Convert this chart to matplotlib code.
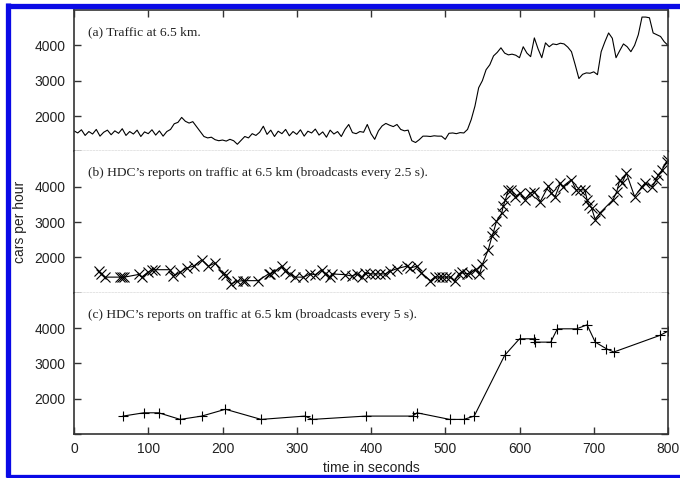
import numpy as np
import matplotlib.pyplot as plt
from matplotlib.lines import Line2D

traffic_t = np.arange(0, 801, 5)
traffic_a = [
    1580, 1520, 1610, 1450, 1560, 1490, 1620, 1430, 1540, 1600, 1470, 1580, 1510, 1640, 1450, 1560, 1490, 1600, 1420, 1550,
    1500, 1610, 1460, 1580, 1430, 1560, 1620, 1780, 1820, 1960, 1850, 1800, 1840, 1700, 1560, 1420, 1380, 1400, 1330, 1300,
    1320, 1290, 1340, 1300, 1200, 1310, 1420, 1380, 1500, 1450, 1540, 1710, 1480, 1600, 1420, 1570, 1500, 1620, 1440, 1560,
    1480, 1610, 1430, 1570, 1520, 1630, 1460, 1550, 1400, 1600, 1490, 1560, 1420, 1620, 1760, 1530, 1500, 1560, 1540, 1760,
    1500, 1340, 1580, 1720, 1790, 1740, 1700, 1760, 1620, 1580, 1600, 1300, 1250, 1330, 1430, 1430, 1420, 1440, 1430, 1430,
    1340, 1510, 1520, 1500, 1530, 1520, 1620, 1900, 2280, 2800, 3000, 3310, 3450, 3700, 3800, 3930, 3780, 3730, 3750, 3720,
    3650, 3960, 3780, 3680, 4210, 3900, 3650, 4070, 3960, 4040, 4020, 4060, 4040, 3950, 3820, 3450, 3060, 3180, 3220, 3210,
    3250, 3170, 3820, 4100, 4350, 4200, 3650, 3850, 4040, 3960, 3820, 4000, 4300, 4800, 4800, 4780, 4350, 4300, 4250, 4100, 4000,
]

# (b) HDC reports, broadcasts every 2.5 s
rep_b_t = [33, 37, 42, 62, 65, 68, 87, 91, 100, 105, 109, 129, 134, 143, 152, 161, 172, 181, 190, 201,
           205, 212, 219, 228, 230, 248, 262, 264, 269, 280, 284, 291, 298, 309, 318, 325, 334, 338, 345, 347,
           365, 374, 381, 388, 392, 399, 405, 412, 419, 426, 435, 448, 453, 462, 468, 480, 486, 491, 496, 501,
           506, 513, 518, 522, 529, 533, 542, 546, 550, 558, 563, 565, 569, 576, 578, 581, 585, 589, 594, 601,
           607, 614, 620, 628, 639, 643, 648, 655, 658, 670, 676, 681, 688, 691, 693, 697, 702, 708, 726, 731,
           735, 738, 744, 755, 765, 769, 779, 784, 787, 792, 798, 800]
rep_b = [1610, 1515, 1440, 1440, 1440, 1440, 1515, 1440, 1580, 1650, 1650, 1650, 1470, 1580, 1700, 1750, 1930, 1750, 1840, 1530,
         1500, 1250, 1320, 1340, 1340, 1340, 1530, 1530, 1580, 1750, 1610, 1530, 1440, 1440, 1530, 1510, 1650, 1530, 1440, 1530,
         1510, 1470, 1530, 1440, 1560, 1530, 1530, 1530, 1530, 1610, 1680, 1750, 1700, 1750, 1560, 1340, 1440, 1440, 1440, 1440,
         1440, 1340, 1530, 1580, 1530, 1560, 1660, 1515, 1800, 2220, 2600, 2720, 3020, 3250, 3440, 3630, 3910, 3910, 3720, 3810,
         3630, 3810, 3860, 3580, 4020, 3810, 3720, 4100, 4000, 4200, 3910, 3910, 3910, 3630, 3490, 3400, 3070, 3250, 3630, 3860,
         4190, 4100, 4380, 3720, 4000, 4100, 4000, 4190, 4330, 4470, 4710, 4750]

# (c) HDC reports, broadcasts every 5 s
rep_c_t = [66, 94, 114, 143, 172, 204, 252, 311, 321, 393, 456, 462, 506, 525, 539,
           580, 600, 619, 621, 642, 651, 677, 691, 702, 717, 727, 789, 800]
rep_c = [1507, 1600, 1600, 1413, 1507, 1700, 1413, 1507, 1413, 1507, 1507, 1600, 1413, 1413, 1507,
         3225, 3695, 3695, 3600, 3600, 3977, 3977, 4090, 3600, 3413, 3320, 3790, 3910]

labels = ["(a) Traffic at 6.5 km.",
          "(b) HDC\u2019s reports on traffic at 6.5 km (broadcasts every 2.5 s).",
          "(c) HDC\u2019s reports on traffic at 6.5 km (broadcasts every 5 s)."]
yticks = [1000, 2000, 3000, 4000]
yticklabels = ["", "2000", "3000", "4000"]
xticks = [0, 100, 200, 300, 400, 500, 600, 700, 800]

fig = plt.figure(figsize=(6.8, 4.78), dpi=100)
plt.rcParams['font.family'] = ['Liberation Sans', 'DejaVu Sans']

left, right = 74 / 680, 668 / 680
top, bottom = 1 - 10 / 478, 1 - 434 / 478
h = (top - bottom) / 3

axes = []
for i in range(3):
    ax = fig.add_axes([left, top - (i + 1) * h, right - left, h])
    axes.append(ax)

series = [(traffic_t, traffic_a, None), (rep_b_t, rep_b, 'x'), (rep_c_t, rep_c, '+')]
for i, (ax, (t, v, m)) in enumerate(zip(axes, series)):
    if m is None:
        ax.plot(t, v, color='black', lw=0.8)
    else:
        ax.plot(t, v, color='black', lw=0.8, marker=m, ms=6.5, mew=0.8)
    ax.set_xlim(0, 800)
    ax.set_ylim(1000, 5000)
    ax.set_yticks(yticks)
    ax.set_yticklabels(yticklabels)
    ax.tick_params(axis='y', direction='in', length=5, right=True, labelsize=10, pad=6,
                   colors='#333333', labelcolor='#222222', width=1)
    ax.text(0.024, 0.845, labels[i], transform=ax.transAxes, family=['Liberation Serif'],
            fontsize=9.7, color='#222222', va='center', ha='left')
    for s in ['left', 'right']:
        ax.spines[s].set_color('#333333')
        ax.spines[s].set_linewidth(1.2)
    ax.spines['top'].set_visible(i == 0)
    ax.spines['top'].set_color('#333333')
    ax.spines['top'].set_linewidth(1.2)
    if i < 2:
        # dotted separator between the stacked panels
        ax.spines['bottom'].set_linestyle((0, (1, 1.5)))
        ax.spines['bottom'].set_color('#333333')
        ax.spines['bottom'].set_linewidth(0.9)
    else:
        ax.spines['bottom'].set_color('#333333')
        ax.spines['bottom'].set_linewidth(1.2)

axes[0].set_xticks(xticks)
axes[0].tick_params(axis='x', direction='in', length=5, top=True, bottom=False,
                    labeltop=False, labelbottom=False, colors='#333333', width=1)
axes[1].tick_params(axis='x', bottom=False, labelbottom=False)
axes[2].set_xticks(xticks)
axes[2].tick_params(axis='x', direction='in', length=5, labelsize=10, colors='#333333',
                    labelcolor='#222222', width=1, pad=6)
axes[2].set_xlabel("time in seconds", fontsize=10, color='#222222', labelpad=3)

fig.text(20 / 680, 1 - 222 / 478, "cars per hour", rotation=90, fontsize=10,
         color='#222222', ha='center', va='center')

# blue frame on the left, top and bottom edges
blue = '#0a0ae6'
for xs, ys in [([8, 8], [3, 477]), ([5.5, 680], [5.8, 5.8]), ([5.5, 680], [476.5, 476.5])]:
    fig.add_artist(Line2D([x / 680 for x in xs], [1 - y / 478 for y in ys],
                          transform=fig.transFigure, color=blue, lw=3.8,
                          solid_capstyle='butt'))

fig.savefig("out.png", dpi=100)
